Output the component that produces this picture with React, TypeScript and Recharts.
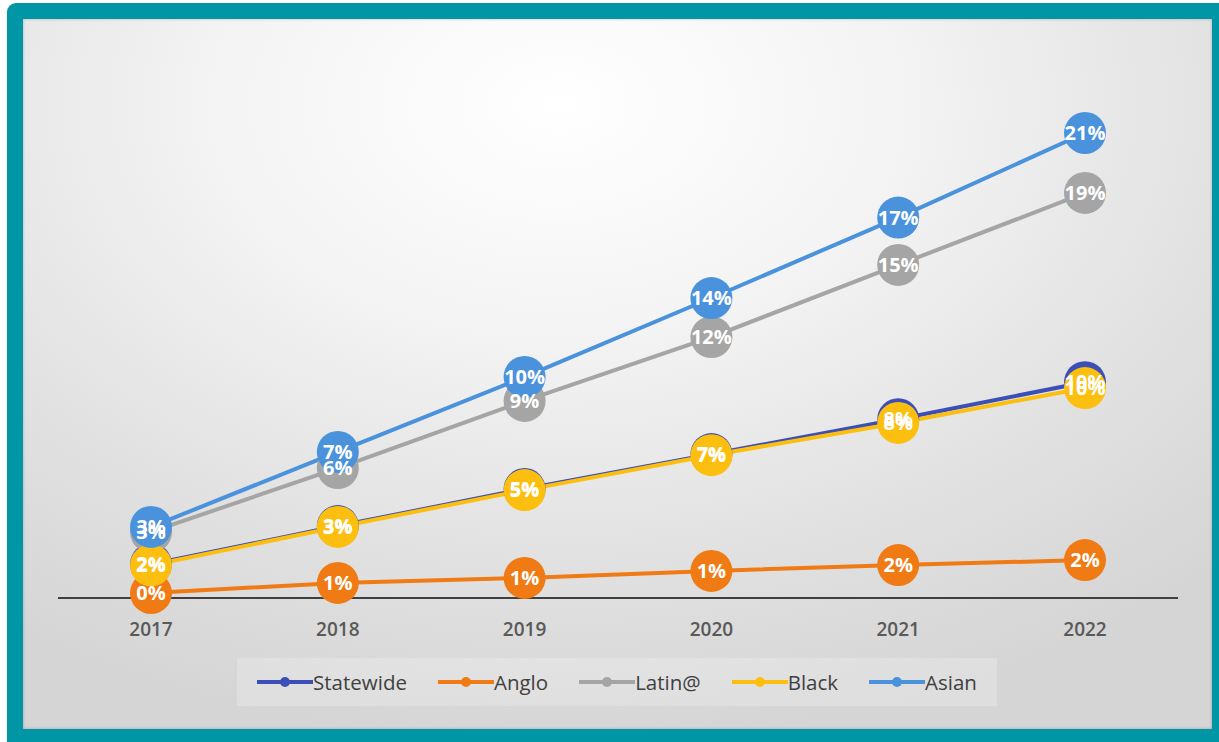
import { LineChart, Line, XAxis, YAxis } from 'recharts';

const years = ['2017', '2018', '2019', '2020', '2021', '2022'];

// percent of students
const statewide = [1.55, 3.3, 5.0, 6.6, 8.2, 9.9];
const anglo = [0.23, 0.69, 0.92, 1.24, 1.51, 1.74];
const latin = [3.03, 5.96, 9.04, 11.97, 15.28, 18.58];
const black = [1.5, 3.26, 4.95, 6.55, 8.03, 9.63];
const asian = [3.26, 6.7, 10.14, 13.76, 17.45, 21.33];

const series = [
  { key: 'statewide', name: 'Statewide', color: '#3b4fb6', values: statewide },
  { key: 'anglo', name: 'Anglo', color: '#f07a14', values: anglo },
  { key: 'latin', name: 'Latin@', color: '#a5a5a5', values: latin },
  { key: 'black', name: 'Black', color: '#fdbf0f', values: black },
  { key: 'asian', name: 'Asian', color: '#4a92db', values: asian },
];

const data = years.map((year, i) => {
  const row: any = { year };
  series.forEach((s) => (row[s.key] = s.values[i]));
  return row;
});

const FONT = '"Open Sans", "Noto Sans", sans-serif';

const Marker = (props: any) => {
  const { cx, cy, color } = props;
  if (cx == null || cy == null) return null;
  return <circle cx={cx} cy={cy} r={21} fill={color} />;
};

const ValueLabel = (props: any) => {
  const { cx, cy, value } = props;
  if (cx == null || cy == null || value == null) return null;
  return (
    <text
      x={cx}
      y={cy + 7}
      textAnchor="middle"
      fill="#ffffff"
      fontSize={20}
      fontWeight={700}
      fontFamily={FONT}
    >
      {Math.round(value)}%
    </text>
  );
};

const YearTick = (props: any) => {
  const { x, y, payload } = props;
  return (
    <text x={x} y={y + 38} textAnchor="middle" fill="#595959" fontSize={19} fontWeight={600} fontFamily={FONT}>
      {payload.value}
    </text>
  );
};

function LegendBox() {
  return (
    <div
      style={{
        position: 'absolute',
        left: 237,
        top: 658,
        width: 760,
        height: 48,
        background: 'rgba(255,255,255,0.22)',
        display: 'flex',
        alignItems: 'center',
        justifyContent: 'center',
        gap: 31,
        fontFamily: FONT,
        fontSize: 20.5,
        color: '#404040',
      }}
    >
      {series.map((s) => (
        <div key={s.key} style={{ display: 'flex', alignItems: 'center' }}>
          <svg width={56} height={14}>
            <line x1={0} y1={7} x2={56} y2={7} stroke={s.color} strokeWidth={4} />
            <circle cx={28} cy={7} r={5} fill={s.color} />
          </svg>
          <span>{s.name}</span>
        </div>
      ))}
    </div>
  );
}

export default function App() {
  return (
    <div style={{ position: 'absolute', left: 0, top: 0, width: 1219, height: 742, background: '#ffffff' }}>
      <div
        style={{
          position: 'absolute',
          left: 7,
          top: 3,
          width: 1212,
          height: 739,
          background: '#0096a5',
          borderTopLeftRadius: 9,
        }}
      />
      <div
        style={{
          position: 'absolute',
          left: 23,
          top: 19,
          width: 1189,
          height: 710,
          background:
            'radial-gradient(ellipse 80% 90% at 45% 12%, #ffffff 0%, #f4f4f4 35%, #e2e2e2 70%, #d5d5d5 100%)',
          boxShadow: 'inset 0 0 3px rgba(0,0,0,0.25)',
        }}
      />
      <div style={{ position: 'absolute', left: 0, top: 0 }}>
        <LineChart width={1219} height={742} data={data} margin={{ top: 53, right: 41, left: 58, bottom: 104 }}>
          <XAxis
            dataKey="year"
            height={40}
            padding={{ left: 93, right: 93 }}
            axisLine={{ stroke: '#404040', strokeWidth: 2 }}
            tickLine={false}
            tickSize={0}
            tickMargin={0}
            tick={<YearTick />}
          />
          <YAxis hide width={0} domain={[0, 25]} />
          {series.map((s) => (
            <Line
              key={s.key}
              dataKey={s.key}
              name={s.name}
              type="linear"
              stroke={s.color}
              strokeWidth={4}
              dot={<Marker color={s.color} />}
              activeDot={false}
              isAnimationActive={false}
            />
          ))}
          {series.map((s) => (
            <Line
              key={s.key + '-lbl'}
              dataKey={s.key}
              type="linear"
              stroke="none"
              legendType="none"
              dot={<ValueLabel />}
              activeDot={false}
              isAnimationActive={false}
            />
          ))}
        </LineChart>
      </div>
      <LegendBox />
    </div>
  );
}
